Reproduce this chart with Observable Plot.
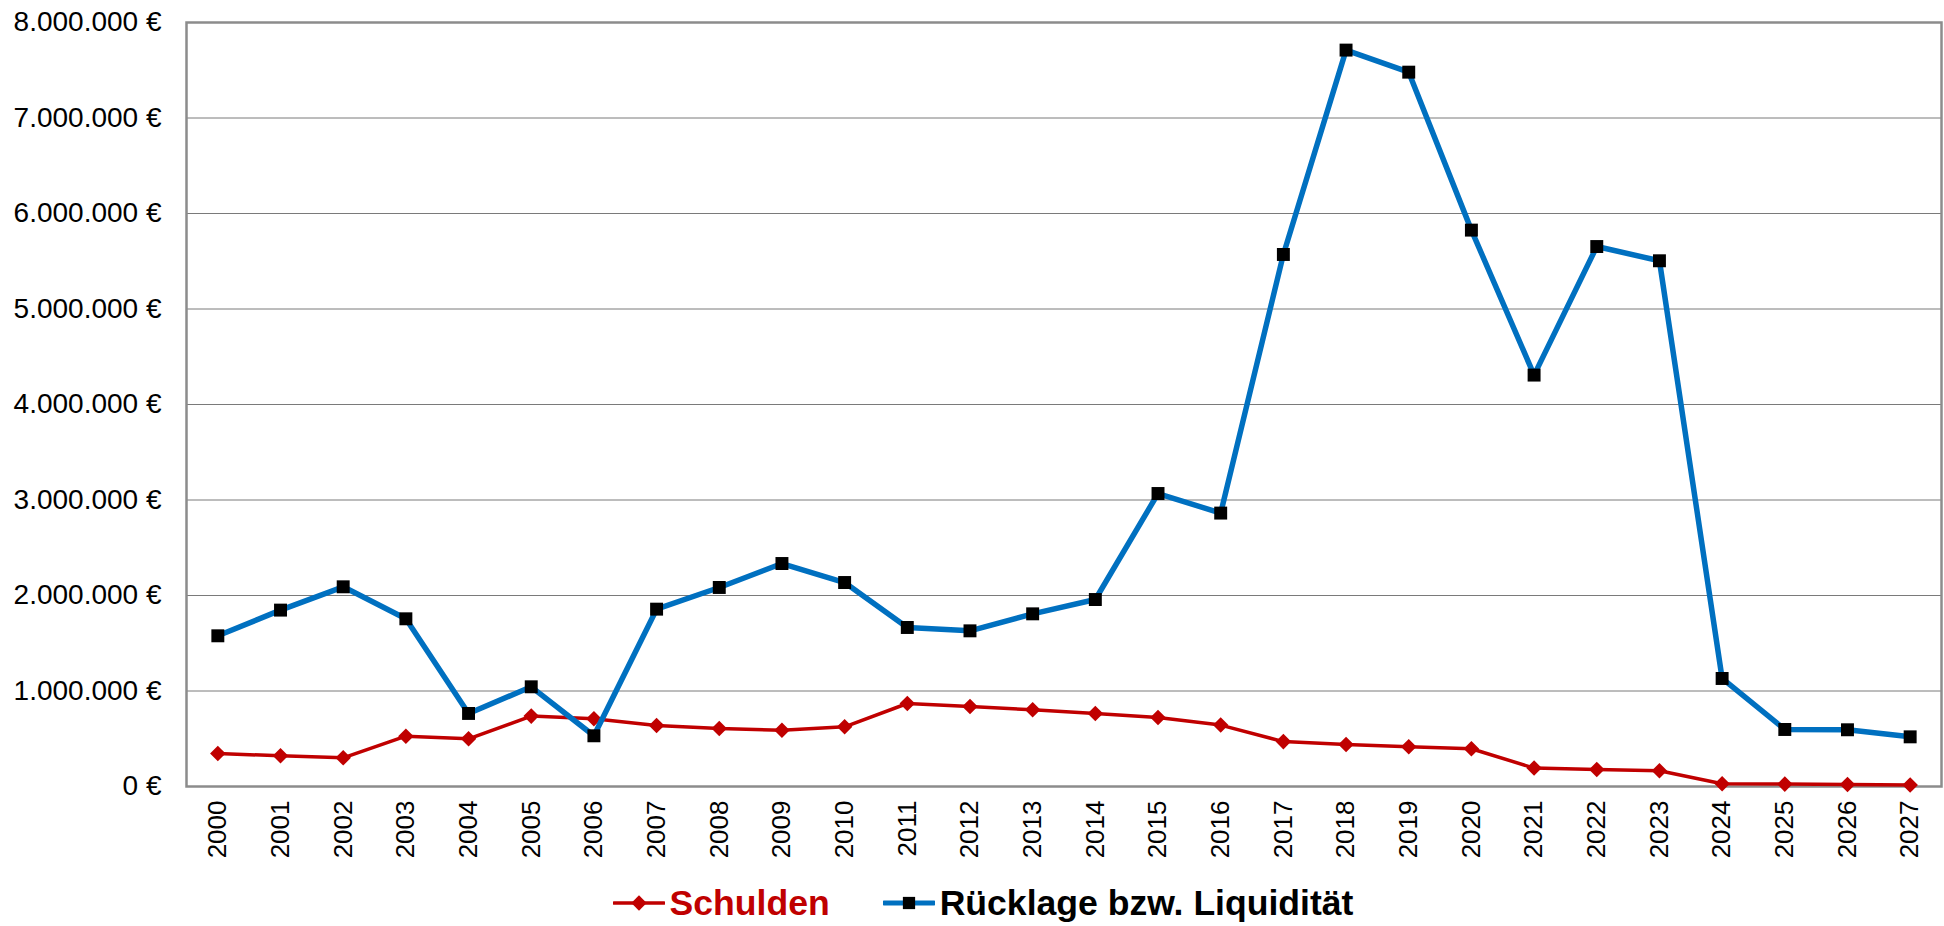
<!DOCTYPE html>
<html>
<head>
<meta charset="utf-8">
<script src="https://cdn.jsdelivr.net/npm/d3@7"></script>
<script src="https://cdn.jsdelivr.net/npm/@observablehq/plot@0.6"></script>
<style>
  html, body { margin: 0; padding: 0; background: #fff; }
  body { width: 1944px; height: 926px; overflow: hidden; font-family: "Liberation Sans", Arial, sans-serif; }
  #legend { position: relative; width: 1944px; height: 60px; display: flex; justify-content: center; align-items: center; top: 7px; padding-left: 22px; box-sizing: border-box; }
  .item { display: flex; align-items: center; }
  .item span { font-weight: bold; font-size: 35.6px; margin-left: 5px; }
</style>
</head>
<body>
<div id="chart"></div>
<div id="legend"></div>
<script>
const years = ["2000","2001","2002","2003","2004","2005","2006","2007","2008","2009","2010","2011","2012","2013","2014","2015","2016","2017","2018","2019","2020","2021","2022","2023","2024","2025","2026","2027"];
const schulden = [346000,321000,300000,527000,499000,737000,709000,639000,607000,590000,625000,869000,838000,803000,765000,723000,643000,470000,440000,416000,395000,193000,178000,164000,28000,25000,20000,15000];
const ruecklage = [1578000,1847000,2091000,1756000,765000,1044000,531000,1857000,2084000,2335000,2136000,1665000,1630000,1808000,1958000,3068000,2863000,5571000,7711000,7480000,5826000,4308000,5654000,5505000,1131000,597000,594000,520000];
const yTicks = [0,1000000,2000000,3000000,4000000,5000000,6000000,7000000,8000000];
const seriesNames = ["Schulden", "Rücklage bzw. Liquidität"];
const seriesColors = ["#C00000", "#0070C0"];

const dataS = years.map((y, i) => ({year: y, value: schulden[i]}));
const dataR = years.map((y, i) => ({year: y, value: ruecklage[i]}));

const euro = d => d === 0 ? "0 €" : d3.format(",")(d).replace(/,/g, ".") + " €";

const chart = Plot.plot({
  width: 1944,
  height: 866,
  marginLeft: 186,
  marginRight: 3,
  marginTop: 22,
  marginBottom: 80,
  style: {fontFamily: "Liberation Sans, Arial, sans-serif", color: "#000", background: "#fff"},
  x: {type: "point", domain: years, padding: 0.5, round: false, label: null},
  y: {domain: [0, 8000000], label: null},
  marks: [
    Plot.ruleY(yTicks.filter(d => d > 0 && d < 8000000), {stroke: "#7a7a7a", strokeWidth: 1}),
    Plot.axisY({ticks: yTicks, tickFormat: euro, tickSize: 0, tickPadding: 25, fontSize: 28, label: null}),
    Plot.axisX({tickRotate: -90, tickSize: 0, tickPadding: 14, fontSize: 26, label: null}),
    Plot.frame({stroke: "#8c8c8c", strokeWidth: 2.5}),
    Plot.line(dataS, {x: "year", y: "value", stroke: seriesColors[0], strokeWidth: 3.5}),
    Plot.dot(dataS, {x: "year", y: "value", symbol: "diamond2", r: 7, fill: seriesColors[0], stroke: "none"}),
    Plot.line(dataR, {x: "year", y: "value", stroke: seriesColors[1], strokeWidth: 5.5}),
    Plot.dot(dataR, {x: "year", y: "value", symbol: "square", r: 7.3, fill: "#000", stroke: "none"})
  ]
});
document.getElementById("chart").appendChild(chart);

const legend = document.getElementById("legend");
const sym = [d3.symbol(d3.symbolDiamond2, 150)(), d3.symbol(d3.symbolSquare, 150)()];
const symFill = [seriesColors[0], "#000"];
const textColors = ["#C00000", "#000"];
seriesNames.forEach((name, i) => {
  const item = document.createElement("div");
  item.className = "item";
  if (i > 0) item.style.marginLeft = "53px";
  item.innerHTML = `<svg width="52" height="20" viewBox="0 0 52 20"><line x1="1" x2="51" y1="10" y2="10" stroke="${seriesColors[i]}" stroke-width="${i ? 5 : 3.5}" stroke-linecap="round"/><path d="${sym[i]}" transform="translate(26,10)" fill="${symFill[i]}"/></svg><span style="color:${textColors[i]}">${name}</span>`;
  legend.appendChild(item);
});
</script>
</body>
</html>
